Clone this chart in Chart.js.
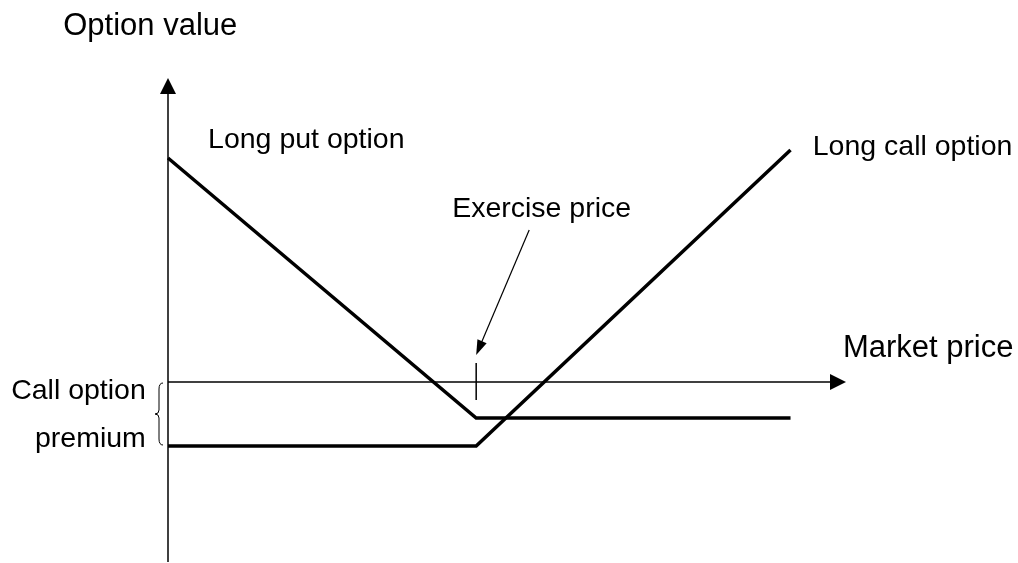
<!DOCTYPE html>
<html>
<head>
<meta charset="utf-8">
<script src="https://cdn.jsdelivr.net/npm/chart.js@4"></script>
<style>
  body { margin: 0; background: #fff; }
  #wrap { width: 1018px; height: 563px; position: relative; }
</style>
</head>
<body>
<div id="wrap"><canvas id="graficoOpcoes"></canvas></div>
<script>
// dados do diagrama (unidades arbitrarias)
const marketPrice = [0, 50, 101];
const longCall = [-16, -16, 58];
const longPut = [56, -9, -9];
const exercisePrice = 50;
const xRange = [0, 110];
const yRange = [-45, 76];

const FONT = '28.5px "Liberation Sans", Arial, sans-serif';
const FONT_EIXO = '31px "Liberation Sans", Arial, sans-serif';

function pts(ys) {
  return marketPrice.map((x, i) => ({ x: x, y: ys[i] }));
}

function arrowHead(c, x1, y1, x2, y2, len, half) {
  const a = Math.atan2(y2 - y1, x2 - x1);
  c.beginPath();
  c.moveTo(x2, y2);
  c.lineTo(x2 - len * Math.cos(a) + half * Math.sin(a), y2 - len * Math.sin(a) - half * Math.cos(a));
  c.lineTo(x2 - len * Math.cos(a) - half * Math.sin(a), y2 - len * Math.sin(a) + half * Math.cos(a));
  c.closePath();
  c.fill();
}

// eixos com setas, marca do preco de exercicio e textos
const desenho = {
  id: 'desenho',
  afterDatasetsDraw(chart) {
    const c = chart.ctx;
    const sx = chart.scales.x, sy = chart.scales.y;
    const X = v => sx.getPixelForValue(v);
    const Y = v => sy.getPixelForValue(v);
    c.save();
    c.strokeStyle = '#000';
    c.fillStyle = '#000';
    c.lineWidth = 1.5;

    // eixo vertical
    c.beginPath();
    c.moveTo(X(0), Y(yRange[0]));
    c.lineTo(X(0), Y(yRange[1]) + 10);
    c.stroke();
    arrowHead(c, X(0), Y(0), X(0), Y(yRange[1]), 16, 8);

    // eixo horizontal
    c.beginPath();
    c.moveTo(X(0), Y(0));
    c.lineTo(X(xRange[1]) - 10, Y(0));
    c.stroke();
    arrowHead(c, X(0), Y(0), X(xRange[1]), Y(0), 16, 8);

    // marca do preco de exercicio
    c.beginPath();
    c.moveTo(X(exercisePrice), Y(4.75));
    c.lineTo(X(exercisePrice), Y(-4.5));
    c.stroke();

    // seta da anotacao
    const ax = X(58.6), ay = Y(38), bx = X(exercisePrice), by = Y(6.75);
    c.lineWidth = 1.2;
    c.beginPath();
    c.moveTo(ax, ay);
    c.lineTo(bx + (ax - bx) * 0.1, by + (ay - by) * 0.1);
    c.stroke();
    arrowHead(c, ax, ay, bx, by, 15, 5);

    // chave do premio
    const kx = X(0) - 10, k1 = Y(-0.25), k2 = Y(-15.75), km = (k1 + k2) / 2;
    c.lineWidth = 1;
    c.beginPath();
    c.moveTo(kx + 5, k1);
    c.quadraticCurveTo(kx + 1, k1, kx + 1, k1 + 6);
    c.lineTo(kx + 1, km - 4);
    c.quadraticCurveTo(kx + 1, km, kx - 3, km);
    c.quadraticCurveTo(kx + 1, km, kx + 1, km + 4);
    c.lineTo(kx + 1, k2 - 6);
    c.quadraticCurveTo(kx + 1, k2, kx + 5, k2);
    c.stroke();

    // textos
    c.textBaseline = 'alphabetic';
    c.textAlign = 'left';
    c.font = FONT_EIXO;
    c.fillText('Option value', X(-17.0), Y(86.75));
    c.fillText('Market price', X(109.5), Y(6.25));
    c.font = FONT;
    c.fillText('Long put option', X(6.5), Y(58.5));
    c.fillText('Long call option', X(104.6), Y(56.75));
    c.fillText('Exercise price', X(46.1), Y(41.25));
    c.textAlign = 'right';
    c.fillText('Call option', X(-3.6), Y(-4.25));
    c.fillText('premium', X(-3.6), Y(-16.2));
    c.restore();
  }
};

const ctx = document.getElementById('graficoOpcoes');

new Chart(ctx, {
  type: 'scatter',
  data: {
    datasets: [
      { label: 'Long put option', data: pts(longPut) },
      { label: 'Long call option', data: pts(longCall) }
    ].map(d => Object.assign(d, {
      showLine: true,
      borderColor: '#000',
      borderWidth: 3.5,
      pointRadius: 0,
      fill: false,
      clip: false
    }))
  },
  options: {
    responsive: true,
    maintainAspectRatio: false,
    animation: false,
    layout: { padding: { left: 168, top: 78, right: 172, bottom: 1 } },
    scales: {
      x: { type: 'linear', min: xRange[0], max: xRange[1], display: false },
      y: { type: 'linear', min: yRange[0], max: yRange[1], display: false }
    },
    plugins: {
      legend: { display: false },
      tooltip: { enabled: false }
    }
  },
  plugins: [desenho]
});
</script>
</body>
</html>
